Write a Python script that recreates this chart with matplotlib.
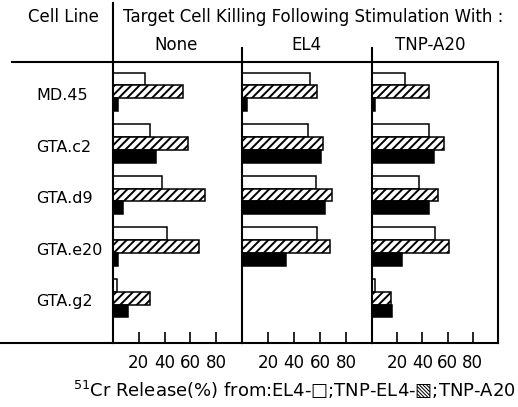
import matplotlib
matplotlib.use('Agg')
import matplotlib.pyplot as plt
from matplotlib.lines import Line2D
import numpy as np

cell_lines = ['MD.45', 'GTA.c2', 'GTA.d9', 'GTA.e20', 'GTA.g2']
stimulators = ['None', 'EL4', 'TNP-A20']

# 51Cr release (%) from targets, one list per stimulation panel
el4_none = [25, 29, 38, 42, 3]
el4_el4 = [52, 51, 57, 57.5, 0]
el4_tnpa20 = [26.5, 45.5, 37.5, 50, 2.5]

tnpel4_none = [54, 58, 71, 67, 29]
tnpel4_el4 = [58, 62, 69, 68, 0]
tnpel4_tnpa20 = [45.5, 57, 52.5, 61, 15]

tnpa20_none = [4, 33, 8, 3.5, 12]
tnpa20_el4 = [3.5, 61, 64, 33.5, 0]
tnpa20_tnpa20 = [2.5, 49, 45, 24, 16]

xticks = [20, 40, 60, 80]

white = [el4_none, el4_el4, el4_tnpa20]
hatched = [tnpel4_none, tnpel4_el4, tnpel4_tnpa20]
black = [tnpa20_none, tnpa20_el4, tnpa20_tnpa20]

plt.rcParams['font.family'] = ['DejaVu Sans']
plt.rcParams['hatch.linewidth'] = 1.4

W, H = 518, 407
fig = plt.figure(figsize=(W / 100, H / 100), dpi=100)

def fx(px):
    return px / W

def fy(py):
    return 1 - py / H

top_px, bot_px = 62, 343
edges = [113, 242, 372, 498]
lw = 1.5

y = np.arange(len(cell_lines))
h = 0.25
for k in range(3):
    ax = fig.add_axes([fx(edges[k]), fy(bot_px), fx(edges[k + 1] - edges[k]), fy(top_px) - fy(bot_px)])
    ax.barh(y - h, white[k], height=h, color='white', edgecolor='black', linewidth=1.1)
    ax.barh(y, hatched[k], height=h, color='white', edgecolor='black', linewidth=1.1, hatch='////')
    ax.barh(y + h, black[k], height=h, color='black', edgecolor='black', linewidth=1.1)
    ax.set_xlim(0, 100)
    ax.set_ylim(4.87, -0.58)
    ax.set_yticks([])
    ax.set_xticks(xticks)
    ax.tick_params(axis='x', direction='in', length=8, width=1.2, pad=8, labelsize=12)
    for s in ax.spines.values():
        s.set_linewidth(lw)
    if k < 2:
        ax.spines['right'].set_visible(False)

# extra rules of the table layout
fig.add_artist(Line2D([fx(12), fx(113)], [fy(top_px), fy(top_px)], color='black', lw=lw))
fig.add_artist(Line2D([fx(0), fx(113)], [fy(bot_px), fy(bot_px)], color='black', lw=lw))
fig.add_artist(Line2D([fx(113), fx(113)], [fy(3), fy(top_px)], color='black', lw=lw))
for e in edges[1:3]:
    fig.add_artist(Line2D([fx(e), fx(e)], [fy(48), fy(top_px)], color='black', lw=lw))

for i, name in enumerate(cell_lines):
    ypx = top_px + (i + 0.58 + 0.07) * (bot_px - top_px) / 5.45
    fig.text(fx(36), fy(ypx), name, ha='left', va='center', fontsize=11.5)

fig.text(fx(28), fy(17), 'Cell Line', ha='left', va='center', fontsize=12)
fig.text(fx(123), fy(17), 'Target Cell Killing Following Stimulation With :', ha='left', va='center', fontsize=12)
for name, cx in zip(stimulators, [176, 306, 430]):
    fig.text(fx(cx), fy(45), name, ha='center', va='center', fontsize=12)

fig.text(fx(73), fy(390), '$^{51}$Cr Release(%) from:EL4-\u25a1;TNP-EL4-\u25a7;TNP-A20',
         ha='left', va='center', fontsize=13)

fig.savefig('out.png', dpi=100)
